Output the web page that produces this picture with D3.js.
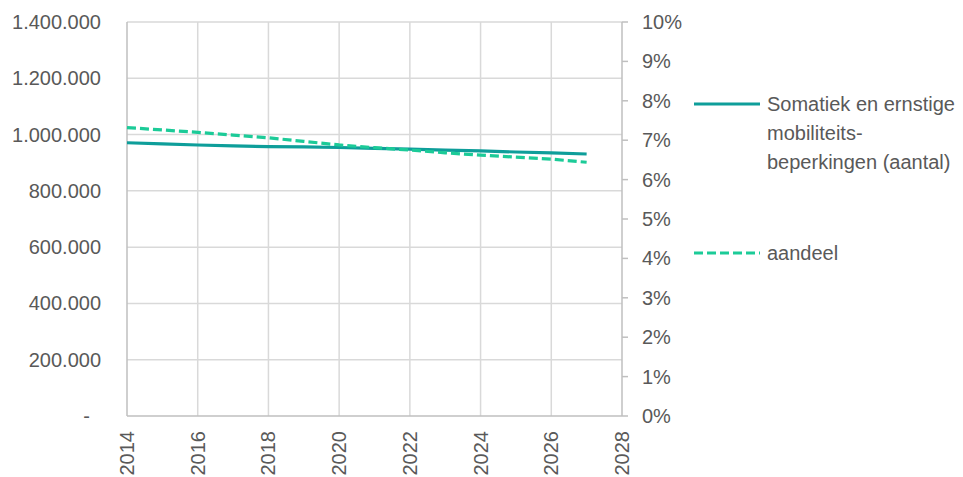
<!DOCTYPE html>
<html>
<head>
<meta charset="utf-8">
<script src="https://cdn.jsdelivr.net/npm/d3@7"></script>
<style>
  html, body { margin: 0; padding: 0; background: #fff; }
  svg { display: block; }
  text { font-family: "Liberation Sans", Arial, sans-serif; fill: #595959; }
</style>
</head>
<body>
<svg id="chart" width="963" height="477"></svg>
<script>
// ---- data ----
const years = [2014, 2015, 2016, 2017, 2018, 2019, 2020, 2021, 2022, 2023, 2024, 2025, 2026, 2027];
const aantal = [971000, 967000, 963000, 960000, 957000, 956000, 954000, 951000, 948000, 945000, 942000, 938000, 935000, 931000];
const aandeel = [0.0732, 0.0726, 0.0720, 0.0713, 0.0706, 0.0697, 0.0688, 0.0681, 0.0675, 0.0668, 0.0662, 0.0657, 0.0652, 0.0644];
const xTicks = [2014, 2016, 2018, 2020, 2022, 2024, 2026, 2028];
const leftTicks = [0, 200000, 400000, 600000, 800000, 1000000, 1200000, 1400000];
const leftTickLabels = ["-", "200.000", "400.000", "600.000", "800.000", "1.000.000", "1.200.000", "1.400.000"];
const rightTicks = [0, 0.01, 0.02, 0.03, 0.04, 0.05, 0.06, 0.07, 0.08, 0.09, 0.10];
const rightTickLabels = ["0%", "1%", "2%", "3%", "4%", "5%", "6%", "7%", "8%", "9%", "10%"];
const seriesNames = [["Somatiek en ernstige", "mobiliteits-", "beperkingen (aantal)"], ["aandeel"]];

// ---- layout ----
const L = 127, R = 622, T = 22, B = 416;
const svg = d3.select("#chart");
const x = d3.scaleLinear().domain([2014, 2028]).range([L, R]);
const yL = d3.scaleLinear().domain([0, 1400000]).range([B, T]);
const yR = d3.scaleLinear().domain([0, 0.10]).range([B, T]);

const gridColor = "#D9D9D9", axisColor = "#BFBFBF";
const solidColor = "#0E9E9A", dashColor = "#1CCB98";
const fs = 20;

// horizontal gridlines
svg.append("g").selectAll("line").data(leftTicks.filter(d => d > 0)).join("line")
  .attr("x1", L).attr("x2", R).attr("y1", d => yL(d)).attr("y2", d => yL(d))
  .attr("stroke", gridColor).attr("stroke-width", 1.5);
// vertical gridlines
svg.append("g").selectAll("line").data(xTicks.filter(d => d > 2014 && d < 2028)).join("line")
  .attr("x1", d => x(d)).attr("x2", d => x(d)).attr("y1", T).attr("y2", B)
  .attr("stroke", gridColor).attr("stroke-width", 1.5);

// axes lines
svg.append("line").attr("x1", L).attr("x2", L).attr("y1", T).attr("y2", B).attr("stroke", axisColor).attr("stroke-width", 1.5);
svg.append("line").attr("x1", L).attr("x2", R).attr("y1", B).attr("y2", B).attr("stroke", axisColor).attr("stroke-width", 1.5);
svg.append("line").attr("x1", R).attr("x2", R).attr("y1", T).attr("y2", B).attr("stroke", axisColor).attr("stroke-width", 1.5);

// right axis ticks
svg.append("g").selectAll("line").data(rightTicks).join("line")
  .attr("x1", R).attr("x2", R + 6).attr("y1", d => yR(d)).attr("y2", d => yR(d))
  .attr("stroke", axisColor).attr("stroke-width", 1.5);

// left labels
svg.append("g").selectAll("text").data(leftTicks).join("text")
  .attr("x", (d, i) => leftTickLabels[i] === "-" ? 90 : 101)
  .attr("y", d => yL(d))
  .attr("dy", "0.35em")
  .attr("text-anchor", "end")
  .attr("font-size", fs)
  .text((d, i) => leftTickLabels[i]);

// right labels
svg.append("g").selectAll("text").data(rightTicks).join("text")
  .attr("x", 642).attr("y", d => yR(d)).attr("dy", "0.35em")
  .attr("font-size", fs)
  .text((d, i) => rightTickLabels[i]);

// x labels rotated
svg.append("g").selectAll("text").data(xTicks).join("text")
  .attr("transform", d => `translate(${x(d)},431) rotate(-90)`)
  .attr("dy", "0.35em")
  .attr("text-anchor", "end")
  .attr("font-size", fs)
  .text(d => d);

// lines
const lineL = d3.line().x((d, i) => x(years[i])).y(d => yL(d));
const lineR = d3.line().x((d, i) => x(years[i])).y(d => yR(d));
svg.append("path").datum(aantal).attr("d", lineL)
  .attr("fill", "none").attr("stroke", solidColor).attr("stroke-width", 3.2);
svg.append("path").datum(aandeel).attr("d", lineR)
  .attr("fill", "none").attr("stroke", dashColor).attr("stroke-width", 3.2).attr("stroke-dasharray", "9,4");

// legend
const lg = svg.append("g");
lg.append("line").attr("x1", 694).attr("x2", 760).attr("y1", 104).attr("y2", 104)
  .attr("stroke", solidColor).attr("stroke-width", 3.2);
const t1 = lg.append("text").attr("x", 767).attr("y", 104).attr("font-size", fs);
seriesNames[0].forEach((s, i) => {
  t1.append("tspan").attr("x", 767).attr("y", 104 + i * 29).attr("dy", "0.35em").text(s);
});
lg.append("line").attr("x1", 694).attr("x2", 760).attr("y1", 253).attr("y2", 253)
  .attr("stroke", dashColor).attr("stroke-width", 3.2).attr("stroke-dasharray", "9,4");
lg.append("text").attr("x", 767).attr("y", 253).attr("dy", "0.35em").attr("font-size", fs).text(seriesNames[1][0]);
</script>
</body>
</html>
